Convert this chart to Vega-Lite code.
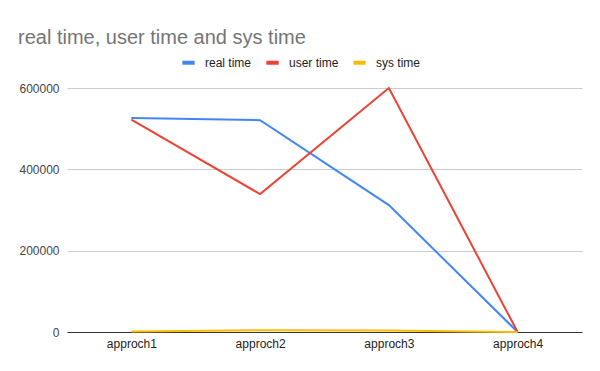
{
  "$schema": "https://vega.github.io/schema/vega-lite/v6.json",
  "width": 515,
  "height": 244,
  "autosize": {"type": "none"},
  "padding": {"left": 67, "top": 88, "right": 18, "bottom": 39},
  "background": "white",
  "title": {
    "text": "real time, user time and sys time",
    "anchor": "start",
    "frame": "group",
    "dx": -49,
    "offset": 6,
    "font": "Liberation Sans",
    "fontSize": 20,
    "fontWeight": "normal",
    "color": "#757575"
  },
  "config": {
    "view": {"stroke": null},
    "font": "Liberation Sans"
  },
  "data": {
    "values": [
      {"approach": "approch1", "series": "real time", "value": 526000},
      {"approach": "approch2", "series": "real time", "value": 521000},
      {"approach": "approch3", "series": "real time", "value": 312000},
      {"approach": "approch4", "series": "real time", "value": 0},
      {"approach": "approch1", "series": "user time", "value": 522000},
      {"approach": "approch2", "series": "user time", "value": 339000},
      {"approach": "approch3", "series": "user time", "value": 600000},
      {"approach": "approch4", "series": "user time", "value": 0},
      {"approach": "approch1", "series": "sys time", "value": 1500},
      {"approach": "approch2", "series": "sys time", "value": 4500},
      {"approach": "approch3", "series": "sys time", "value": 3500},
      {"approach": "approch4", "series": "sys time", "value": 0}
    ]
  },
  "mark": {"type": "line", "strokeWidth": 2},
  "encoding": {
    "x": {
      "field": "approach",
      "type": "ordinal",
      "scale": {"type": "point", "padding": 0.5},
      "axis": {
        "title": null,
        "labelAngle": 0,
        "labelFontSize": 12,
        "labelColor": "#222222",
        "labelPadding": 6,
        "ticks": false,
        "domainColor": "#333333",
        "domainWidth": 1,
        "grid": false
      }
    },
    "y": {
      "field": "value",
      "type": "quantitative",
      "scale": {"domain": [0, 600000], "nice": false},
      "axis": {
        "title": null,
        "values": [0, 200000, 400000, 600000],
        "format": "d",
        "labelFontSize": 12,
        "labelColor": "#444444",
        "labelPadding": 8,
        "ticks": false,
        "domain": false,
        "gridColor": "#cccccc",
        "gridWidth": 1
      }
    },
    "color": {
      "field": "series",
      "type": "nominal",
      "scale": {
        "domain": ["real time", "user time", "sys time"],
        "range": ["#4285F4", "#EA4335", "#FBBC04"]
      },
      "legend": {
        "title": null,
        "orient": "none",
        "direction": "horizontal",
        "legendX": 113,
        "legendY": -34,
        "symbolType": "stroke",
        "symbolSize": 150,
        "symbolStrokeWidth": 4,
        "labelFontSize": 12,
        "labelColor": "#222222",
        "columnPadding": 6,
        "labelOffset": 8
      }
    }
  }
}
